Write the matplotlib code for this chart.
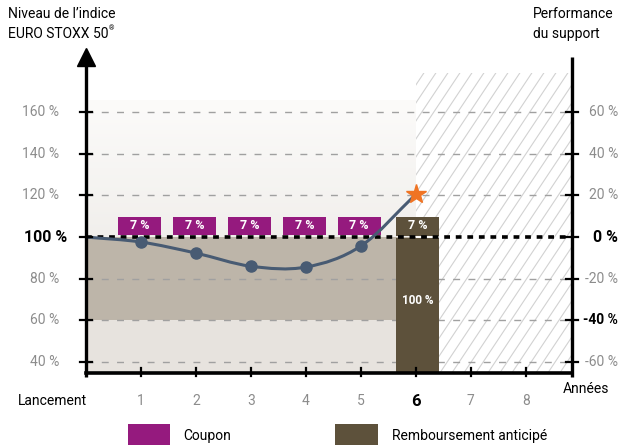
import numpy as np
import matplotlib
matplotlib.use("Agg")
import matplotlib.pyplot as plt
from matplotlib.patches import Rectangle, PathPatch
from matplotlib.path import Path
import matplotlib.transforms as mtrans

plt.rcParams['font.family'] = ['Roboto', 'DejaVu Sans']

# ---------------- data ----------------
years = [0, 1, 2, 3, 4, 5, 6]
index_level = [100, 97.6, 92.3, 86.0, 85.6, 95.7, 120.5]
coupon_years = [1, 2, 3, 4, 5]
coupon_labels = ["7 %", "7 %", "7 %", "7 %", "7 %"]
redemption_year = 6
redemption_coupon = "7 %"
redemption_value = 100
redemption_label = "100 %"
left_ticks = [40, 60, 80, 100, 120, 140, 160]
left_labels = ["40 %", "60 %", "80 %", "100 %", "120 %", "140 %", "160 %"]
right_labels = ["-60 %", "-40 %", "-20 %", "0 %", "20 %", "40 %", "60 %"]
x_ticks = [1, 2, 3, 4, 5, 6, 7, 8]
x_labels = ["1", "2", "3", "4", "5", "6", "7", "8"]
barrier_level = 60
threshold = 100

# ---------------- colors ----------------
PURPLE = "#951a7e"
BROWN = "#5d513b"
BEIGE = "#bdb5a9"
LOW = "#e7e3de"
LINE = "#485b73"
STAR = "#f07424"
GRID = "#a0a0a0"
GREY_TXT = "#8c8c8c"

W, H = 628, 445
fig = plt.figure(figsize=(W / 100, H / 100), dpi=100)
fig.patch.set_facecolor("white")
ax = fig.add_axes([86 / W, (H - 373) / H, (572 - 86) / W, (373 - 47.3) / H])
XMAX, YMIN, YMAX = 8.84, 34.8, 191
ax.set_xlim(0, XMAX)
ax.set_ylim(YMIN, YMAX)
ax.axis("off")

# backgrounds
grad = np.linspace(0, 1, 200)[:, None]
c_top = np.array([252, 251, 250]) / 255
c_bot = np.array([241, 239, 236]) / 255
img = c_top[None, None, :] * (1 - grad[..., None]) + c_bot[None, None, :] * grad[..., None]
ax.imshow(img, extent=[0, redemption_year, threshold, 165.7], aspect="auto", zorder=0)
ax.add_patch(Rectangle((0, barrier_level), redemption_year, threshold - barrier_level,
                       facecolor=BEIGE, edgecolor="none", zorder=0.5))
ax.add_patch(Rectangle((0, YMIN), redemption_year, barrier_level - YMIN,
                       facecolor=LOW, edgecolor="none", zorder=0.5))

# hatched future area
hx0, hy0, hy1 = redemption_year, YMIN, 178.6
clip_rect = Rectangle((hx0, hy0), XMAX - hx0, hy1 - hy0, facecolor="white",
                      edgecolor="none", zorder=0.5)
ax.add_patch(clip_rect)
px_x, px_y = 55.0, 2.085
height_px = (hy1 - hy0) * px_y
for k in range(-30, 30):
    x0 = hx0 + k * 12 / px_x
    x1 = x0 + height_px / 1.5 / px_x
    ln, = ax.plot([x0, x1], [hy0, hy1], color="#d2d2d2", lw=0.8, zorder=0.6)
    ln.set_clip_path(clip_rect)

# gridlines
for t in left_ticks:
    if t != threshold:
        ax.plot([0, XMAX], [t, t], color=GRID, lw=1.0, dashes=(5, 6), zorder=1)

# redemption bar + coupon box
bw = 0.78
ax.add_patch(Rectangle((redemption_year + 0.03 - bw / 2, YMIN), bw, redemption_value - 0.4 - YMIN,
                       facecolor=BROWN, edgecolor="none", zorder=2))
ax.add_patch(Rectangle((redemption_year + 0.03 - bw / 2, 100.5), bw, 9.1,
                       facecolor=BROWN, edgecolor="none", zorder=2))
ax.text(redemption_year + 0.03, 105.3, redemption_coupon, color="white", fontsize=9,
        fontweight="bold", ha="center", va="center", zorder=3)
ax.text(redemption_year + 0.03, 69.8, redemption_label, color="white", fontsize=8.5,
        fontweight="bold", ha="center", va="center", zorder=3)

# coupon boxes
for yr, lab in zip(coupon_years, coupon_labels):
    ax.add_patch(Rectangle((yr - 0.03 - bw / 2, 101.0), bw, 8.6,
                           facecolor=PURPLE, edgecolor="none", zorder=2))
    ax.text(yr - 0.03, 105.4, lab, color="white", fontsize=9, fontweight="bold",
            ha="center", va="center", zorder=3)

# 100% threshold dotted line
ax.plot([0, XMAX], [threshold, threshold], color="black", lw=2.6, dashes=(1.6, 1.6), zorder=4)

# smooth line (Catmull-Rom as Bezier)
P = np.column_stack([years, index_level]).astype(float)
ext = np.vstack([P[0] - (P[1] - P[0]), P, P[-1] + (P[-1] - P[-2])])
verts = [tuple(P[0])]
codes = [Path.MOVETO]
for i in range(1, len(ext) - 2):
    p0, p1, p2, p3 = ext[i - 1], ext[i], ext[i + 1], ext[i + 2]
    c1 = p1 + (p2 - p0) / 6
    c2 = p2 - (p3 - p1) / 6
    verts += [tuple(c1), tuple(c2), tuple(p2)]
    codes += [Path.CURVE4] * 3
ax.add_patch(PathPatch(Path(verts, codes), facecolor="none", edgecolor=LINE, lw=2.2, zorder=5))
ax.plot(years[1:-1], index_level[1:-1], "o", color=LINE, ms=8, zorder=6)
ax.plot(years[-1], index_level[-1], "*", color=STAR, ms=15, mec=STAR, zorder=7)

# axes lines
ax.plot([0, 0], [YMIN - 1.8, 184], color="black", lw=2.4, zorder=8, clip_on=False,
        solid_capstyle="butt")
ax.plot([0], [186.3], marker="^", color="black", ms=13, zorder=8, clip_on=False)
ax.plot([XMAX, XMAX], [YMIN - 1.8, 186.3], color="black", lw=2.4, zorder=8, clip_on=False,
        solid_capstyle="butt")
ax.plot([0, XMAX], [YMIN, YMIN], color="black", lw=2.6, zorder=8, clip_on=False,
        solid_capstyle="projecting")
for t in left_ticks:
    ax.plot([-0.11, 0.11], [t, t], color="black", lw=1.6, zorder=8, clip_on=False)
    ax.plot([XMAX - 0.11, XMAX + 0.11], [t, t], color="black", lw=1.6, zorder=8, clip_on=False)
for t in x_ticks:
    ax.plot([t, t], [YMIN - 1.5, YMIN + 2.5], color="black", lw=1.6, zorder=8, clip_on=False)

# tick labels
bt = mtrans.blended_transform_factory(fig.transFigure, ax.transData)
for t, lab in zip(left_ticks, left_labels):
    bold = t == threshold
    ax.text(59 / W if not bold else 67 / W, t, lab, transform=bt, ha="right", va="center",
            fontsize=11.5 if bold else 10, fontweight="bold" if bold else "normal",
            color="black" if bold else GREY_TXT)
for t, lab in zip(left_ticks, right_labels):
    bold = lab in ("0 %", "-40 %")
    ax.text(618 / W, t, lab, transform=bt, ha="right", va="center",
            fontsize=11.5 if lab == "0 %" else 10, fontweight="bold" if bold else "normal",
            color="black" if bold else GREY_TXT)

bx = mtrans.blended_transform_factory(ax.transData, fig.transFigure)
for t, lab in zip(x_ticks, x_labels):
    bold = t == redemption_year
    ax.text(t, 1 - 401 / H, lab, transform=bx, ha="center", va="center",
            fontsize=12 if bold else 10, fontweight="bold" if bold else "normal",
            color="black" if bold else GREY_TXT)
fig.text(52 / W, 1 - 401 / H, "Lancement", ha="center", va="center", fontsize=10, color="black")
fig.text(586 / W, 1 - 389 / H, "Années", ha="center", va="center", fontsize=10, color="black")

# axis titles
fig.text(8 / W, 1 - 14 / H, "Niveau de l’indice", ha="left", va="center", fontsize=10)
t_euro = fig.text(8 / W, 1 - 34 / H, "EURO STOXX 50", ha="left", va="center", fontsize=10)
fig.canvas.draw()
bb = t_euro.get_window_extent()
fig.text((bb.x1 + 0.5) / W, 1 - 29 / H, "®", ha="left", va="center", fontsize=5)
fig.text(533 / W, 1 - 14 / H, "Performance", ha="left", va="center", fontsize=10)
fig.text(533 / W, 1 - 34 / H, "du support", ha="left", va="center", fontsize=10)

# legend
fig.patches.append(Rectangle((128 / W, 0), 42 / W, 21 / H, transform=fig.transFigure,
                             facecolor=PURPLE, edgecolor="none"))
fig.text(183 / W, 1 - 436 / H, "Coupon", ha="left", va="center", fontsize=10)
fig.patches.append(Rectangle((335 / W, 0), 43 / W, 21 / H, transform=fig.transFigure,
                             facecolor=BROWN, edgecolor="none"))
fig.text(392 / W, 1 - 436 / H, "Remboursement anticipé", ha="left", va="center", fontsize=10)

fig.savefig("out.png", dpi=100)
